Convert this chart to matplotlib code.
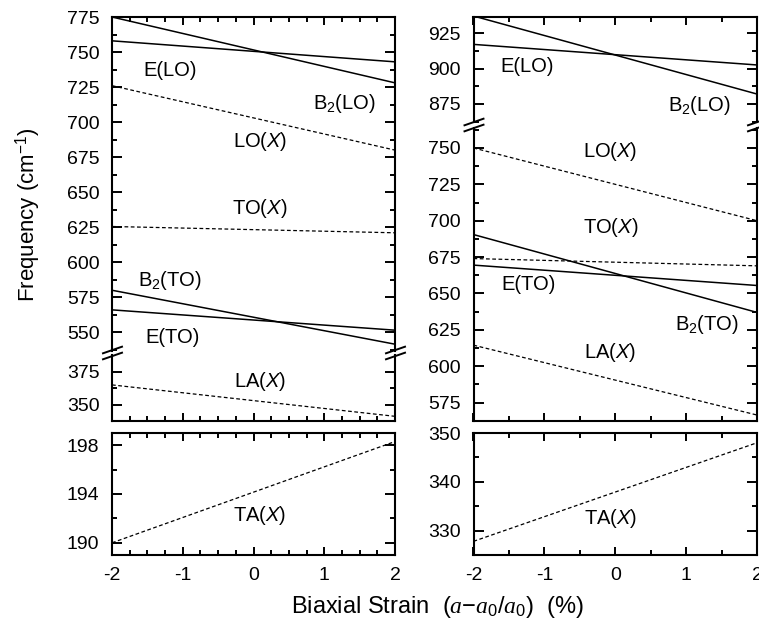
import numpy as np
import matplotlib
matplotlib.use('Agg')
import matplotlib.pyplot as plt
from matplotlib.ticker import MultipleLocator, FixedLocator
from matplotlib.lines import Line2D

plt.rcParams['font.family'] = ['Liberation Sans', 'DejaVu Sans']
plt.rcParams['mathtext.fontset'] = 'custom'
plt.rcParams['mathtext.rm'] = 'Liberation Sans'
plt.rcParams['mathtext.it'] = 'Liberation Serif:italic'
plt.rcParams['mathtext.sf'] = 'Liberation Sans:italic'

# strain (%) en los extremos, las curvas son rectas
strain = [-2, 2]

# panel izquierdo (cm^-1)
left_b2_lo = [775, 728]
left_e_lo = [758, 743]
left_lo_x = [726, 680]
left_to_x = [625.5, 621]
left_b2_to = [580, 541.5]
left_e_to = [566, 551.5]
left_la_x = [365, 341.5]
left_ta_x = [190, 198.3]

# panel derecho (cm^-1)
right_b2_lo = [937, 882]
right_e_lo = [917, 902.5]
right_lo_x = [750, 700]
right_to_x = [674, 669]
right_b2_to = [690.5, 637]
right_e_to = [669.5, 655.5]
right_la_x = [614.5, 566.5]
right_ta_x = [327.8, 348]

# ticks del panel TA izquierdo
left_ta_ticks = [190, 194, 198]
left_ta_minor = [192, 196]
xtick_labels = ['-2', '-1', '0', '1', '2']

W, H = 759, 635
fig = plt.figure(figsize=(W / 100, H / 100), dpi=100)


def px_axes(x0, x1, y0, y1):
    # rectangulo en pixeles (origen arriba a la izquierda)
    return fig.add_axes([x0 / W, 1 - y1 / H, (x1 - x0) / W, (y1 - y0) / H])


def style(ax, xminor, ymajor, yminor, top=True, bottom=True, xlabels=False):
    ax.set_xlim(-2, 2)
    ax.xaxis.set_major_locator(MultipleLocator(1))
    ax.xaxis.set_minor_locator(MultipleLocator(xminor))
    ax.yaxis.set_major_locator(MultipleLocator(ymajor))
    ax.yaxis.set_minor_locator(MultipleLocator(yminor))
    for s in ax.spines.values():
        s.set_linewidth(1.5)
    ax.spines['top'].set_visible(top)
    ax.spines['bottom'].set_visible(bottom)
    ax.tick_params(which='both', direction='in', left=True, right=True,
                   top=top, bottom=bottom, width=1.4, labelsize=14)
    ax.tick_params(axis='y', which='major', length=7, pad=9)
    ax.tick_params(axis='y', which='minor', length=3.6)
    ax.tick_params(axis='x', which='major', length=6, pad=9)
    ax.tick_params(axis='x', which='minor', length=3.6)
    if not xlabels:
        ax.tick_params(axis='x', labelbottom=False)
    else:
        ax.set_xticks([-2, -1, 0, 1, 2], xtick_labels)


def draw(ax, series):
    for vals, ls in series:
        if ls == 'solid':
            ax.plot(strain, vals, color='black', lw=1.1, solid_capstyle='butt')
        else:
            ax.plot(strain, vals, color='black', lw=0.9, dashes=(3, 2))


def break_mark(xc, yc):
    for dy in (-3, 3):
        y = yc + dy
        fig.add_artist(Line2D([(xc - 9) / W, (xc + 10) / W],
                              [1 - (y + 3.3) / H, 1 - (y - 3.3) / H],
                              color='black', lw=1.4, transform=fig.transFigure))


def label(ax, x, y, s):
    ax.text(x, y, s, fontsize=14.5, ha='center', va='center')


left_series = [(left_b2_lo, 'solid'), (left_e_lo, 'solid'), (left_lo_x, 'dash'),
               (left_to_x, 'dash'), (left_b2_to, 'solid'), (left_e_to, 'solid'),
               (left_la_x, 'dash')]
right_series = [(right_b2_lo, 'solid'), (right_e_lo, 'solid'), (right_lo_x, 'dash'),
                (right_to_x, 'dash'), (right_b2_to, 'solid'), (right_e_to, 'solid'),
                (right_la_x, 'dash')]

# ---- columna izquierda
lx0, lx1 = 112, 395
ax1 = px_axes(lx0, lx1, 17, 350.5)
ax1.set_ylim(537, 775)
style(ax1, 0.25, 25, 12.5, top=True, bottom=False)
draw(ax1, left_series)

ax2 = px_axes(lx0, lx1, 355.5, 421)
ax2.set_ylim(338, 387)
style(ax2, 0.25, 25, 12.5, top=False, bottom=True)
draw(ax2, left_series)

ax3 = px_axes(lx0, lx1, 433, 555)
ax3.set_ylim(189, 199)
style(ax3, 0.25, 4, 2, xlabels=True)
ax3.yaxis.set_major_locator(FixedLocator(left_ta_ticks))
ax3.yaxis.set_minor_locator(FixedLocator(left_ta_minor))
draw(ax3, [(left_ta_x, 'dash')])

label(ax1, -1.18, 737, 'E(LO)')
label(ax1, 1.29, 713.5, r'B$_2$(LO)')
label(ax1, 0.09, 686, r'LO($\mathsf{X}$)')
label(ax1, 0.09, 638, r'TO($\mathsf{X}$)')
label(ax1, -1.18, 587, r'B$_2$(TO)')
label(ax1, -1.15, 546.5, 'E(TO)')
label(ax2, 0.09, 367.5, r'LA($\mathsf{X}$)')
label(ax3, 0.09, 192.2, r'TA($\mathsf{X}$)')

break_mark(lx0, 353)
break_mark(lx1, 353)

# ---- columna derecha
rx0, rx1 = 473.5, 757
ax4 = px_axes(rx0, rx1, 17, 122)
ax4.set_ylim(862.3, 936.3)
style(ax4, 0.5, 25, 12.5, top=True, bottom=False)
draw(ax4, right_series)

ax5 = px_axes(rx0, rx1, 128, 421)
ax5.set_ylim(562.4, 763.7)
style(ax5, 0.5, 25, 12.5, top=False, bottom=True)
draw(ax5, right_series)

ax6 = px_axes(rx0, rx1, 433, 555)
ax6.set_ylim(325, 350)
style(ax6, 0.5, 10, 5, xlabels=True)
draw(ax6, [(right_ta_x, 'dash')])

label(ax4, -1.25, 901.3, 'E(LO)')
label(ax4, 1.19, 874, r'B$_2$(LO)')
label(ax5, -0.07, 747.4, r'LO($\mathsf{X}$)')
label(ax5, -0.07, 695.4, r'TO($\mathsf{X}$)')
label(ax5, -1.23, 656, 'E(TO)')
label(ax5, 1.29, 629, r'B$_2$(TO)')
label(ax5, -0.07, 609.3, r'LA($\mathsf{X}$)')
label(ax6, -0.07, 332.5, r'TA($\mathsf{X}$)')

break_mark(rx0, 125)
break_mark(rx1, 125)

fig.text(28 / W, 1 - 215 / H, r'Frequency (cm$^{-1}$)', rotation=90,
         fontsize=16, ha='center', va='center')
fig.text(437 / W, 1 - 607 / H, r'Biaxial Strain  ($a$−$a_0$/$a_0$)  (%)',
         fontsize=17, ha='center', va='center')

fig.savefig('out.png', dpi=100)
